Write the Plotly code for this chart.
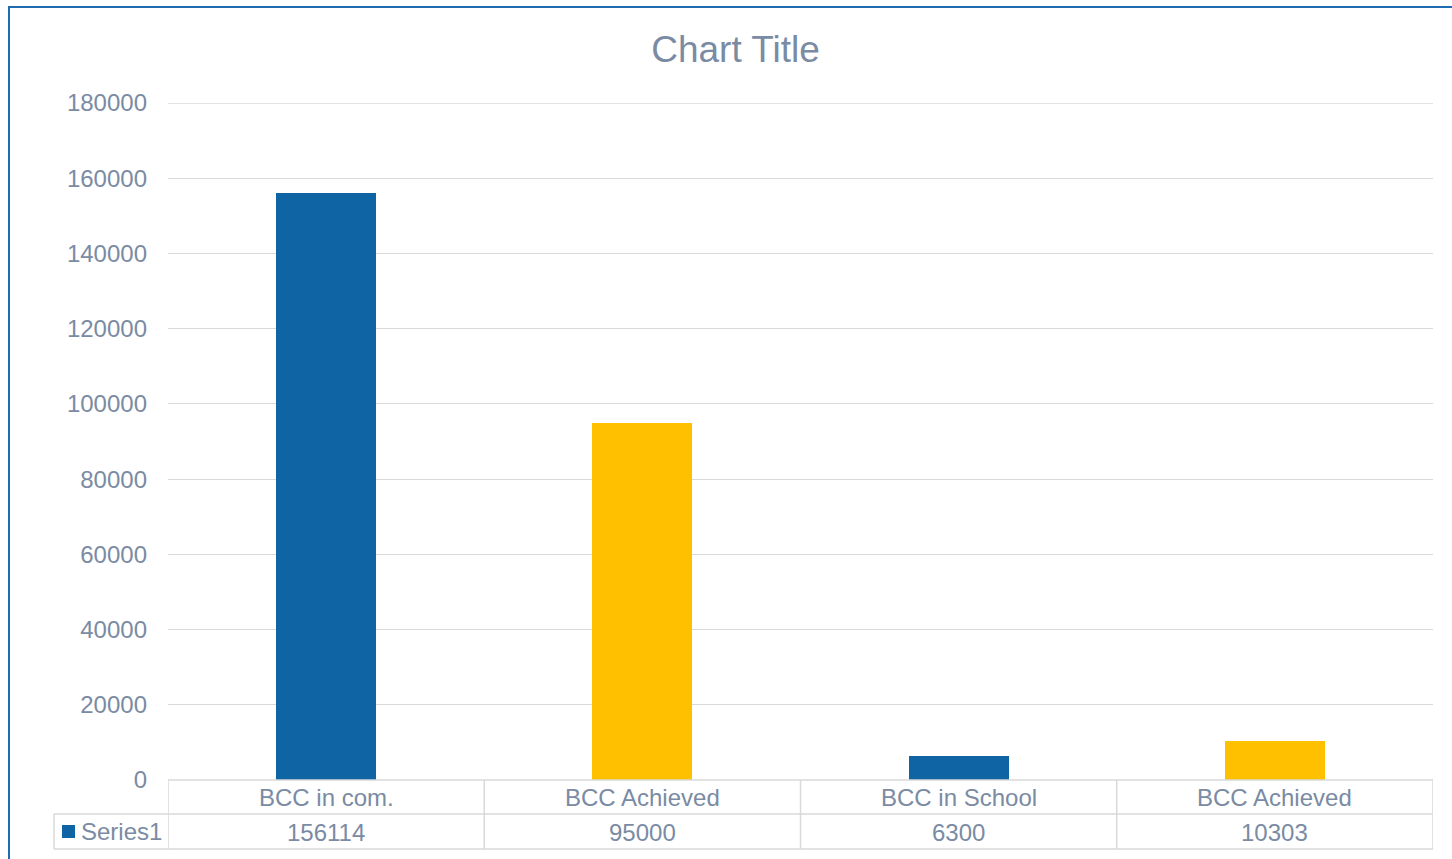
import plotly.graph_objects as go

categories = ["BCC in com.", "BCC Achieved", "BCC in School", "BCC Achieved"]
values = [156114, 95000, 6300, 10303]
bar_colors = ["#0F65A3", "#FFC000", "#0F65A3", "#FFC000"]
series_name = "Series1"
tick_vals = [0, 20000, 40000, 60000, 80000, 100000, 120000, 140000, 160000, 180000]

W, H = 1452, 859
def px(x): return x / W
def py(y): return 1 - y / H

TXT = "#7A8BA3"
GRID = "#D9D9D9"
FONT = "Liberation Sans, Arial, sans-serif"

x_idx = list(range(len(categories)))

fig = go.Figure()
fig.add_trace(go.Bar(
    x=x_idx, y=values, marker=dict(color=bar_colors, line=dict(width=0)),
    width=0.316, name=series_name, showlegend=False, hoverinfo="y"
))

x0, x1 = 168, 1433
y_top, y_bot = 103, 780
row1, row2 = 814, 849

fig.update_layout(
    width=W, height=H,
    margin=dict(l=0, r=0, t=0, b=0, pad=0),
    paper_bgcolor="white", plot_bgcolor="white",
    font=dict(family=FONT, color=TXT, size=24),
    title=dict(text="Chart Title", x=735.5 / W, xanchor="center",
               y=py(49), yanchor="middle", automargin=False,
               font=dict(size=37, color=TXT, family=FONT)),
    xaxis=dict(domain=[px(x0), px(x1)], range=[-0.5, len(categories) - 0.5],
               showticklabels=False, showgrid=False, zeroline=False,
               showline=False, ticks="", automargin=False),
    yaxis=dict(domain=[py(y_bot), py(y_top)], range=[0, 180000],
               tickvals=tick_vals, ticktext=[str(v) for v in tick_vals],
               showgrid=True, gridcolor=GRID, gridwidth=1.3,
               zeroline=False, showline=False, ticks="",
               ticklabelstandoff=20, automargin=False,
               tickfont=dict(size=24, color=TXT, family=FONT)),
    bargap=0,
)

shapes = []
# chart outer border
shapes.append(dict(type="rect", xref="paper", yref="paper",
                   x0=px(9), x1=1.02, y0=-0.02, y1=py(7),
                   line=dict(color="#1F6CB0", width=2), fillcolor="rgba(0,0,0,0)"))
# top gridline
shapes.append(dict(type="line", xref="x domain", yref="y", x0=0, x1=1,
                   y0=tick_vals[-1], y1=tick_vals[-1], line=dict(color=GRID, width=1.3)))
# table lines
lc = dict(color=GRID, width=1.5)
shapes.append(dict(type="line", xref="paper", yref="paper", x0=px(x0), x1=px(x1), y0=py(y_bot), y1=py(y_bot), line=lc))
shapes.append(dict(type="line", xref="paper", yref="paper", x0=px(54), x1=px(x1), y0=py(row1), y1=py(row1), line=lc))
shapes.append(dict(type="line", xref="paper", yref="paper", x0=px(54), x1=px(x1), y0=py(row2), y1=py(row2), line=lc))
shapes.append(dict(type="line", xref="paper", yref="paper", x0=px(54), x1=px(54), y0=py(row1), y1=py(row2), line=lc))
for i in range(len(categories) + 1):
    shapes.append(dict(type="line", xref="x", yref="paper", x0=i - 0.5, x1=i - 0.5,
                       y0=py(y_bot), y1=py(row2), line=lc))
# legend key
shapes.append(dict(type="rect", xref="paper", yref="paper", x0=px(62), x1=px(75),
                   y0=py(838), y1=py(825), fillcolor="#0F65A3", line=dict(width=0)))

annotations = []
for i, (c, v) in enumerate(zip(categories, values)):
    annotations.append(dict(x=i, xref="x", y=py(797), yref="paper", text=c,
                            showarrow=False, xanchor="center", yanchor="middle",
                            font=dict(size=24, color=TXT, family=FONT)))
    annotations.append(dict(x=i, xref="x", y=py(832), yref="paper", text=str(v),
                            showarrow=False, xanchor="center", yanchor="middle",
                            font=dict(size=24, color=TXT, family=FONT)))
annotations.append(dict(x=px(79), xref="paper", y=py(831), yref="paper", text=series_name,
                        showarrow=False, xanchor="left", yanchor="middle",
                        font=dict(size=24, color=TXT, family=FONT)))

fig.update_layout(shapes=shapes, annotations=annotations)
fig.write_html("out.html", config={"displayModeBar": False},
               post_script="document.body.style.margin='0';document.body.style.overflow='hidden';")
